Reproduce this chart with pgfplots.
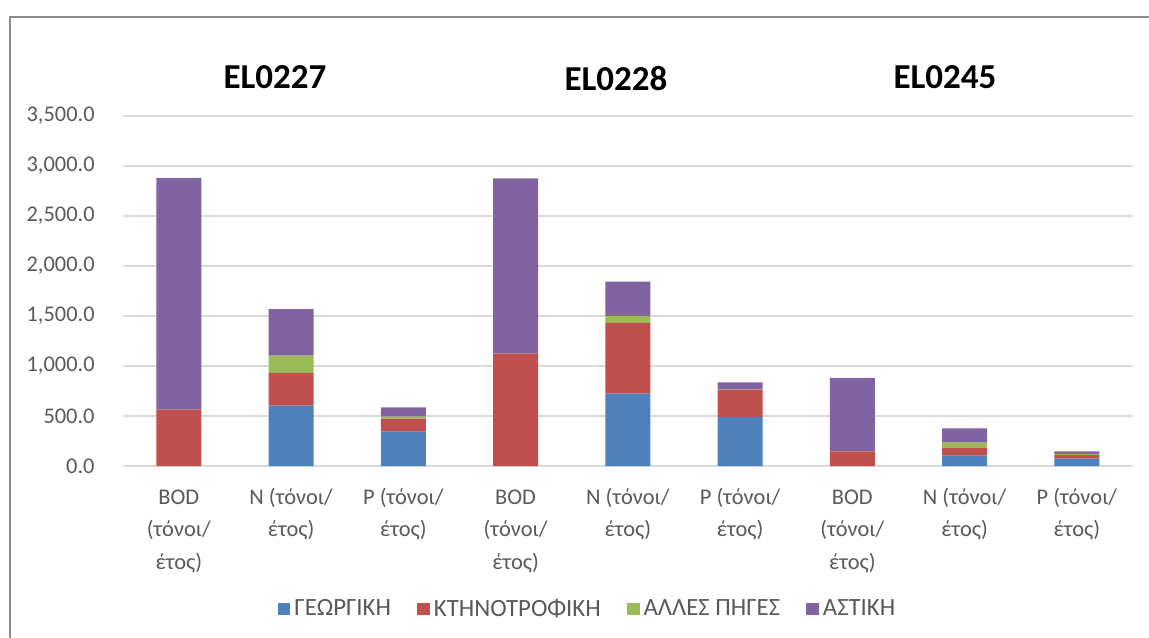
\documentclass[border=0pt]{standalone}
\usepackage{fontspec}
\setmainfont{Carlito}
\usepackage{pgfplots}
\pgfplotsset{compat=1.18}
\definecolor{cblue}{HTML}{4F81BD}
\definecolor{cred}{HTML}{C0504D}
\definecolor{cgreen}{HTML}{9BBB59}
\definecolor{cpurple}{HTML}{8064A2}
\definecolor{textgray}{HTML}{595959}
\definecolor{gridgray}{HTML}{D9D9D9}
\definecolor{framegray}{HTML}{8C8C8C}
\begin{document}
\begin{tikzpicture}
% bounding box = 1149 x 637 px at 0.5pt/px, plot area lower-left at px (122.7,466)
\path[use as bounding box] (-61.35pt,-85.5pt) rectangle (513.15pt,233pt);
\draw[framegray, line width=1pt] (-56.35pt,-90pt) -- (-56.35pt,224.5pt) -- (520pt,224.5pt);
\begin{axis}[
  at={(0,0)}, anchor=south west,
  scale only axis, width=505.15pt, height=175pt,
  ybar stacked, bar width=0.4,
  xmin=-0.5, xmax=8.5, ymin=0, ymax=3500,
  ytick={0,500,...,3500},
  xtick={0,...,8},
  xticklabels={{\strut BOD\\(τόνοι/\\έτος)},{\strut N (τόνοι/\\έτος)},{\strut P (τόνοι/\\έτος)},
               {\strut BOD\\(τόνοι/\\έτος)},{\strut N (τόνοι/\\έτος)},{\strut P (τόνοι/\\έτος)},
               {\strut BOD\\(τόνοι/\\έτος)},{\strut N (τόνοι/\\έτος)},{\strut P (τόνοι/\\έτος)}},
  ymajorgrids, grid style={draw=gridgray, line width=0.75pt},
  axis line style={draw=none},
  major tick length=0pt,
  tick label style={font=\fontsize{11.2}{16.25}\selectfont, text=textgray},
  xticklabel style={align=center, anchor=north, inner sep=0pt, yshift=-7.6pt},
  yticklabel style={anchor=east, inner sep=0pt, xshift=-13.85pt},
  /pgf/number format/assume math mode=true,
  yticklabel={\pgfmathprintnumber[fixed, fixed zerofill, precision=1, 1000 sep={,}, assume math mode=true]{\tick}},
  clip=false,
  legend columns=4,
  legend style={at={(232.9pt,-71.5pt)}, anchor=center, draw=none, fill=none,
    font=\fontsize{12.4}{14}\selectfont, text=textgray,
    /tikz/every even column/.append style={column sep=11pt},
    legend cell align=left, inner sep=0pt,
    nodes={inner sep=2pt}},
  legend image code/.code={\fill[#1] (0pt,-3.2pt) rectangle (6.4pt,3.2pt);},
]
\addplot[fill=cblue, draw=none] coordinates {(0,0) (1,605) (2,344) (3,0) (4,724) (5,491) (6,0) (7,104) (8,74)};
\addplot[fill=cred, draw=none] coordinates {(0,565) (1,326) (2,130) (3,1125) (4,707) (5,273) (6,147) (7,80) (8,36)};
\addplot[fill=cgreen, draw=none] coordinates {(0,0) (1,174) (2,20) (3,0) (4,67) (5,3) (6,0) (7,50) (8,10)};
\addplot[fill=cpurple, draw=none] coordinates {(0,2315) (1,463) (2,93) (3,1751) (4,347) (5,70) (6,734) (7,143) (8,27)};
\legend{ΓΕΩΡΓΙΚΗ, ΚΤΗΝΟΤΡΟΦΙΚΗ, ΑΛΛΕΣ ΠΗΓΕΣ, ΑΣΤΙΚΗ}
\end{axis}
\node[font=\bfseries\fontsize{17.5}{20}\selectfont] at (76.15pt,194.5pt) {EL0227};
\node[font=\bfseries\fontsize{17.5}{20}\selectfont] at (246.65pt,193.5pt) {EL0228};
\node[font=\bfseries\fontsize{17.5}{20}\selectfont] at (411.15pt,194.5pt) {EL0245};
\end{tikzpicture}
\end{document}
